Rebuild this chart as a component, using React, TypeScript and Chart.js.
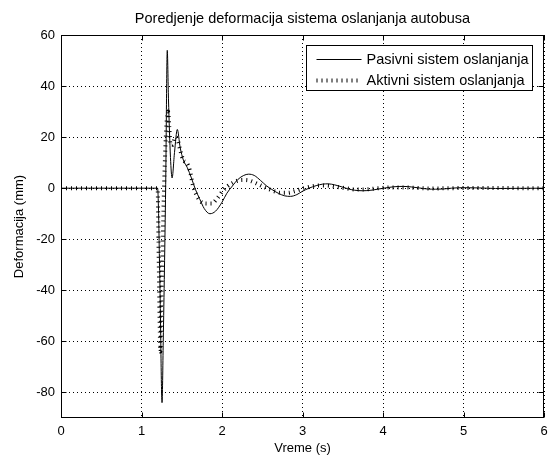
import React, { useEffect, useRef } from 'react';
import { Chart, registerables } from 'chart.js';

Chart.register(...registerables);

const TITLE = 'Poredjenje deformacija sistema oslanjanja autobusa';
const X_LABEL = 'Vreme (s)';
const Y_LABEL = 'Deformacija (mm)';
const SERIES_NAMES = ['Pasivni sistem oslanjanja', 'Aktivni sistem oslanjanja'];
const X_TICKS = [0, 1, 2, 3, 4, 5, 6];
const Y_TICKS = [-80, -60, -40, -20, 0, 20, 40, 60];

const PASSIVE_T = [0, 1.2, 1.23, 1.255, 1.27, 1.3, 1.32, 1.335, 1.36, 1.38, 1.41, 1.445, 1.48, 1.52, 1.57, 1.62, 1.67, 1.72, 1.78, 1.85, 1.92, 2.0, 2.06, 2.12, 2.2, 2.27, 2.33, 2.4, 2.48, 2.55, 2.62, 2.7, 2.78, 2.85, 2.93, 3.0, 3.08, 3.17, 3.25, 3.32, 3.4, 3.48, 3.56, 3.65, 3.75, 3.85, 3.95, 4.05, 4.15, 4.25, 4.35, 4.45, 4.55, 4.65, 4.75, 4.85, 5.0, 5.2, 5.4, 6.0];
const PASSIVE_V = [0, 0, -40, -84, -60, 0, 54, 35, 12, 4, 14, 23, 16, 11, 8, 4, -0.5, -4, -8, -10, -9, -5.5, -2, 0.5, 3.5, 5, 5.5, 5, 3, 1, -0.5, -2, -3, -3.2, -2.5, -1.2, 0, 1, 1.6, 1.7, 1.3, 0.6, -0.2, -0.8, -1.0, -0.8, -0.3, 0.2, 0.6, 0.7, 0.5, 0.1, -0.3, -0.4, -0.3, 0, 0.2, 0.1, -0.1, 0];

const ACTIVE_T = [0, 1.2, 1.215, 1.235, 1.25, 1.28, 1.31, 1.33, 1.345, 1.36, 1.385, 1.42, 1.45, 1.48, 1.52, 1.56, 1.6, 1.64, 1.68, 1.73, 1.8, 1.87, 1.94, 2.0, 2.06, 2.13, 2.2, 2.27, 2.34, 2.42, 2.5, 2.57, 2.65, 2.73, 2.82, 2.9, 2.98, 3.06, 3.15, 3.25, 3.35, 3.45, 3.55, 3.65, 3.75, 3.85, 3.95, 4.1, 4.25, 4.4, 4.6, 4.8, 5.2, 6.0];
const ACTIVE_V = [0, 0, -30, -64, -40, 0, 25, 30, 24, 17, 17, 20, 19, 15, 11, 10, 7, 1, -2.5, -5, -6, -6, -4, -1.5, 0.5, 2, 3, 3.2, 3, 2, 0.8, -0.2, -1.2, -1.8, -1.8, -1.2, -0.4, 0.3, 0.9, 1.1, 0.9, 0.4, -0.1, -0.5, -0.5, -0.3, 0, 0.3, 0.3, 0.1, -0.15, 0, 0.05, 0];

const FONT = '"Liberation Sans", Arial, sans-serif';
const ACTIVE_DASH = [1, 4];

const framePlugin = {
  id: 'matlabFrame',
  afterDraw(chart: any) {
    const { ctx, chartArea } = chart;
    const { left, right, top, bottom } = chartArea;
    const L = Math.round(left) + 0.5;
    const R = Math.round(right) - 0.5;
    const T = Math.round(top) + 0.5;
    const B = Math.round(bottom) - 0.5;
    ctx.save();
    ctx.strokeStyle = '#000';
    ctx.lineWidth = 1;
    ctx.setLineDash([]);
    ctx.strokeRect(L, T, R - L, B - T);
    const xs = chart.scales.x;
    const ys = chart.scales.y;
    const tl = 5;
    ctx.beginPath();
    xs.ticks.forEach((t: any) => {
      const p = Math.round(xs.getPixelForValue(t.value)) + 0.5;
      ctx.moveTo(p, B);
      ctx.lineTo(p, B - tl);
      ctx.moveTo(p, T);
      ctx.lineTo(p, T + tl);
    });
    ys.ticks.forEach((t: any) => {
      const p = Math.round(ys.getPixelForValue(t.value)) + 0.5;
      ctx.moveTo(L, p);
      ctx.lineTo(L + tl, p);
      ctx.moveTo(R, p);
      ctx.lineTo(R - tl, p);
    });
    ctx.stroke();

    // title
    ctx.fillStyle = '#000';
    ctx.font = '14.5px ' + FONT;
    ctx.textAlign = 'center';
    ctx.textBaseline = 'middle';
    ctx.fillText(TITLE, (left + right) / 2, top - 16);

    // legend
    ctx.font = '14.5px ' + FONT;
    const textW = Math.max(...SERIES_NAMES.map((s) => ctx.measureText(s).width));
    const sample = 45;
    const boxW = 10 + sample + 5 + textW + 5;
    const boxR = Math.round(right) - 11.5;
    const boxL = Math.round(boxR - boxW) + 0.5;
    const boxT = Math.round(top) + 10.5;
    const boxH = 45;
    ctx.fillStyle = '#fff';
    ctx.fillRect(boxL, boxT, boxR - boxL, boxH);
    ctx.strokeStyle = '#000';
    ctx.lineWidth = 1;
    ctx.strokeRect(boxL, boxT, boxR - boxL, boxH);
    const rows = [boxT + 13.5, boxT + 34.5];
    chart.data.datasets.forEach((ds: any, i: number) => {
      const y = Math.round(rows[i]) + 0.5;
      ctx.save();
      ctx.strokeStyle = ds.borderColor;
      ctx.lineWidth = ds.borderWidth;
      ctx.setLineDash(ds.borderDash || []);
      ctx.lineCap = 'butt';
      ctx.beginPath();
      ctx.moveTo(boxL + 10, y);
      ctx.lineTo(boxL + 10 + sample, y);
      ctx.stroke();
      ctx.restore();
      ctx.fillStyle = '#000';
      ctx.textAlign = 'left';
      ctx.textBaseline = 'middle';
      ctx.fillText(ds.label, boxL + 10 + sample + 5, y);
    });
    ctx.restore();
  },
};

export default function App() {
  const ref = useRef<HTMLCanvasElement | null>(null);
  useEffect(() => {
    if (!ref.current) return;
    const passive = PASSIVE_T.map((t, i) => ({ x: t, y: PASSIVE_V[i] }));
    const active = ACTIVE_T.map((t, i) => ({ x: t, y: ACTIVE_V[i] }));
    const chart = new Chart(ref.current, {
      type: 'line',
      data: {
        datasets: [
          {
            label: SERIES_NAMES[0],
            data: passive,
            borderColor: '#000',
            borderWidth: 1,
            pointRadius: 0,
            cubicInterpolationMode: 'monotone',
            order: 1,
          },
          {
            label: SERIES_NAMES[1],
            data: active,
            borderColor: '#000',
            borderWidth: 4,
            borderDash: ACTIVE_DASH,
            borderCapStyle: 'butt',
            pointRadius: 0,
            cubicInterpolationMode: 'monotone',
            order: 0,
          },
        ],
      },
      options: {
        responsive: false,
        animation: false,
        events: [],
        layout: { padding: { left: 0, top: 35, right: 12, bottom: 0 } },
        plugins: { legend: { display: false }, tooltip: { enabled: false }, title: { display: false } },
        scales: {
          x: {
            type: 'linear',
            min: 0,
            max: 6,
            afterBuildTicks: (s: any) => {
              s.ticks = X_TICKS.map((v) => ({ value: v }));
            },
            afterFit: (s: any) => {
              s.height = 40;
            },
            grid: { color: '#000', lineWidth: 1, drawTicks: false },
            border: { display: false, dash: [1, 3] },
            ticks: { color: '#000', padding: 6, font: { family: FONT, size: 13 }, maxRotation: 0 },
            title: { display: true, text: X_LABEL, color: '#000', font: { family: FONT, size: 13 }, padding: { top: 0, bottom: 2 } },
          },
          y: {
            type: 'linear',
            min: -90,
            max: 60,
            afterBuildTicks: (s: any) => {
              s.ticks = Y_TICKS.map((v) => ({ value: v }));
            },
            afterFit: (s: any) => {
              s.width = 61;
            },
            grid: { color: '#000', lineWidth: 1, drawTicks: false },
            border: { display: false, dash: [1, 3] },
            ticks: { color: '#000', padding: 6, font: { family: FONT, size: 13 } },
            title: { display: true, text: Y_LABEL, color: '#000', font: { family: FONT, size: 13 }, padding: { top: 12, bottom: 0 } },
          },
        },
      },
      plugins: [framePlugin],
    } as any);
    return () => chart.destroy();
  }, []);
  return (
    <div style={{ position: 'fixed', left: 0, top: 0, width: 556, height: 458, background: '#fff' }}>
      <canvas ref={ref} width={556} height={458} style={{ display: 'block' }} />
    </div>
  );
}
